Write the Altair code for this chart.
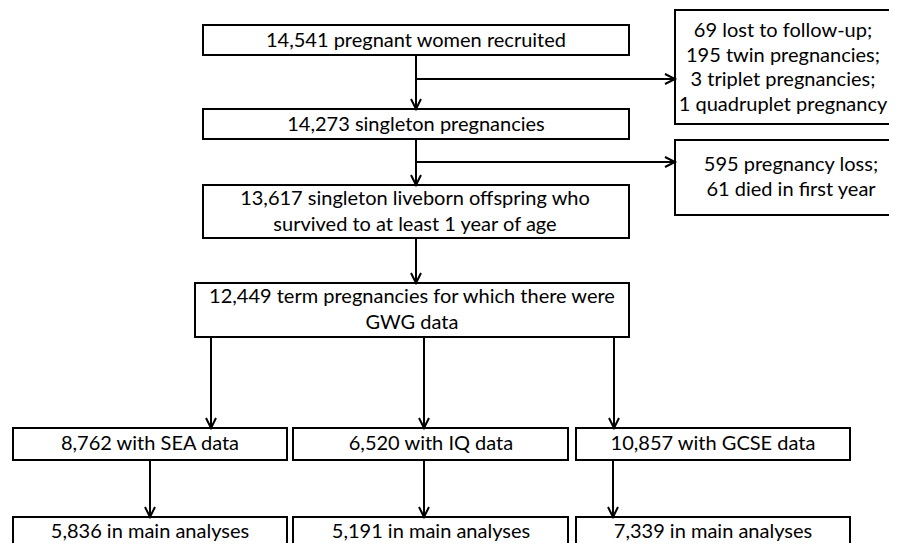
import altair as alt
import pandas as pd

# ---- boxes (page pixel coordinates) ----
box_x1 = [203, 675, 203, 675, 203, 195, 13, 293, 576, 13, 293, 576]
box_x2 = [629, 910, 629, 910, 629, 629, 287, 568, 850, 287, 568, 850]
box_y1 = [25, 10, 109, 140, 185, 283, 428, 428, 428, 517, 517, 517]
box_y2 = [55, 124, 139, 215, 238, 337, 460, 460, 460, 575, 575, 575]

# ---- connector lines ----
line_x1 = [416, 416, 416, 416, 416, 211, 424, 614, 150, 424, 613]
line_x2 = [416, 674, 416, 674, 416, 211, 424, 614, 150, 424, 613]
line_y1 = [55, 79, 139, 162, 238, 337, 337, 337, 460, 460, 460]
line_y2 = [109, 79, 185, 162, 283, 428, 428, 428, 517, 517, 517]

# ---- arrow heads ----
down_x = [416, 416, 416, 211, 424, 614, 150, 424, 613]
down_y = [109, 185, 283, 428, 428, 428, 517, 517, 517]
right_x = [675, 675]
right_y = [79, 162]

# ---- labels ----
labels = [
    "14,541 pregnant women recruited",
    "14,273 singleton pregnancies",
    "13,617 singleton liveborn offspring who",
    "survived to at least 1 year of age",
    "12,449 term pregnancies for which there were",
    "GWG data",
    "8,762 with SEA data",
    "6,520 with IQ data",
    "10,857 with GCSE data",
    "5,836 in main analyses",
    "5,191 in main analyses",
    "7,339 in main analyses",
    "69 lost to follow-up;",
    "195 twin pregnancies;",
    "3 triplet pregnancies;",
    "1 quadruplet pregnancy",
    "595 pregnancy loss;",
    "61 died in first year",
]
label_x = [416, 416, 415, 415, 412, 412, 150, 431, 713, 150, 431, 713,
           783, 783, 783, 783, 791, 791]
label_y = [40.5, 124.5, 198.5, 224.5, 297, 323, 444, 444, 444, 532, 532, 532,
           31, 55.5, 80, 104.5, 165, 190]
label_size = [20] * 18

W, H = 881, 535
xs = alt.Scale(domain=[8, 8 + W], range=[0, W])
ys = alt.Scale(domain=[8, 8 + H], range=[0, H])

boxes = pd.DataFrame({"x1": box_x1, "x2": box_x2, "y1": box_y1, "y2": box_y2})
lines = pd.DataFrame({"x1": line_x1, "x2": line_x2, "y1": line_y1, "y2": line_y2})
downs = pd.DataFrame({"x": down_x, "y": down_y})
rights = pd.DataFrame({"x": right_x, "y": right_y})
texts = pd.DataFrame({"label": labels, "x": label_x, "y": label_y, "s": label_size})

rects = alt.Chart(boxes).mark_rect(
    fill="white", stroke="black", strokeWidth=2
).encode(
    x=alt.X("x1:Q", scale=xs, axis=None),
    x2="x2:Q",
    y=alt.Y("y1:Q", scale=ys, axis=None),
    y2="y2:Q",
)

rules = alt.Chart(lines).mark_rule(color="black", strokeWidth=2).encode(
    x=alt.X("x1:Q", scale=xs, axis=None),
    x2="x2:Q",
    y=alt.Y("y1:Q", scale=ys, axis=None),
    y2="y2:Q",
)

head_down = alt.Chart(downs).mark_point(
    shape="M-0.5,-1L0,0L0.5,-1", filled=False, stroke="black",
    strokeWidth=2, size=400, opacity=1
).encode(
    x=alt.X("x:Q", scale=xs, axis=None),
    y=alt.Y("y:Q", scale=ys, axis=None),
)

head_right = alt.Chart(rights).mark_point(
    shape="M-1,-0.5L0,0L-1,0.5", filled=False, stroke="black",
    strokeWidth=2, size=400, opacity=1
).encode(
    x=alt.X("x:Q", scale=xs, axis=None),
    y=alt.Y("y:Q", scale=ys, axis=None),
)

txt = alt.Chart(texts).mark_text(
    font="Lato", color="black", align="center", baseline="middle"
).encode(
    x=alt.X("x:Q", scale=xs, axis=None),
    y=alt.Y("y:Q", scale=ys, axis=None),
    text="label:N",
    size=alt.Size("s:Q", scale=None, legend=None),
)

chart = alt.layer(rules, rects, head_down, head_right, txt).properties(
    width=W, height=H, padding=0,
    autosize=alt.AutoSizeParams(type="none"),
    background="white",
).configure_view(stroke=None)

chart.save("out.html", embed_options={"renderer": "svg", "actions": False})
